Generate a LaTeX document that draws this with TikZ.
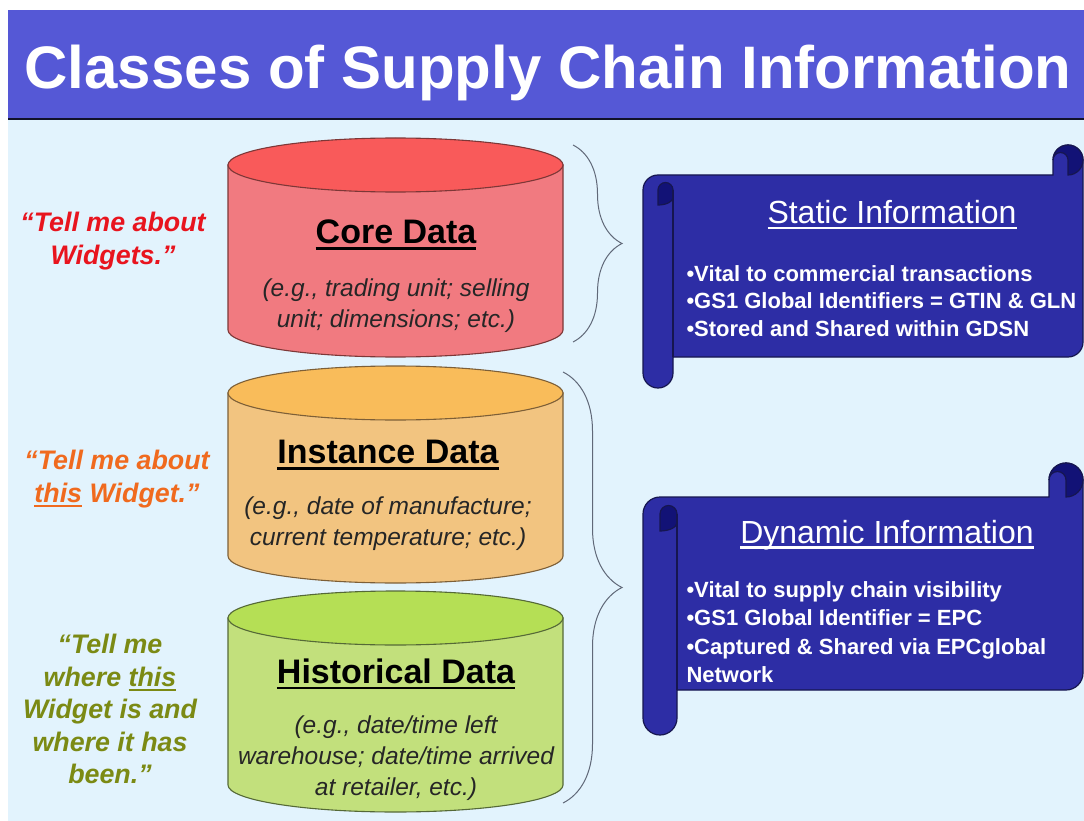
\documentclass[tikz,border=0pt]{standalone}
\usepackage{fontspec}
\setmainfont{Liberation Sans}
\usetikzlibrary{decorations.pathreplacing}

\definecolor{band}{RGB}{85,88,214}
\definecolor{paper}{RGB}{226,243,253}
\definecolor{scrollfill}{RGB}{45,45,165}
\definecolor{scrolldark}{RGB}{18,18,118}
\definecolor{scrollline}{RGB}{22,22,80}
\definecolor{coretop}{RGB}{249,90,90}
\definecolor{coreside}{RGB}{241,122,128}
\definecolor{coreline}{RGB}{125,55,55}
\definecolor{insttop}{RGB}{249,188,90}
\definecolor{instside}{RGB}{242,196,128}
\definecolor{instline}{RGB}{125,95,55}
\definecolor{histtop}{RGB}{181,223,85}
\definecolor{histside}{RGB}{194,224,124}
\definecolor{histline}{RGB}{85,105,55}
\definecolor{bracegray}{RGB}{96,104,120}
\definecolor{sayred}{RGB}{232,20,30}
\definecolor{sayorange}{RGB}{240,106,30}
\definecolor{sayolive}{RGB}{123,138,20}

% underline drawn as a plain rule
\newcommand{\undl}[1]{\setbox0=\hbox{#1}\rlap{\rule[-0.17em]{\wd0}{0.07em}}\box0\relax}

% data store: #1 lid y, #2 base y, #3 side, #4 lid, #5 outline
\newcommand{\datastore}[5]{%
  \draw[draw=#5,line width=1.1pt,fill=#3] (228,#1) -- (228,#2)
    arc[start angle=180,end angle=0,x radius=167.5,y radius=27] -- (563,#1) -- cycle;
  \draw[draw=#5,line width=1.1pt,fill=#4] (395.5,#1) ellipse[x radius=167.5,y radius=27];
}

% scroll: #1 left x, #2 top y, #3 height, #4 lower edge of the sheet, #5 roll width
\newcommand{\infoscroll}[5]{%
  \begin{scope}[shift={(#1,#2)}]
    \pgfmathsetmacro\rollw{#5}
    \pgfmathsetmacro\rollh{#5/2}
    \pgfmathsetmacro\rollq{#5/4}
    \pgfmathsetmacro\rolle{#3-#5/2}
    \filldraw[fill=scrollfill,draw=scrollline,line width=1.2pt]
      (0,1.5*\rollw) arc[start angle=180,end angle=270,radius=\rollh]
      -- (440-\rollw,\rollw) -- (440-\rollw,\rollh)
      arc[start angle=180,end angle=360,radius=\rollh]
      -- (440,#4-\rollh) arc[start angle=0,end angle=90,radius=\rollh]
      -- (\rollw,#4) -- (\rollw,\rolle)
      arc[start angle=0,end angle=180,radius=\rollh] -- cycle;
    % top right curl
    \filldraw[fill=scrolldark,draw=scrollline,line width=1.2pt]
      (440-\rollh,\rollw) arc[start angle=90,end angle=-180,radius=\rollh]
      arc[start angle=180,end angle=360,radius=\rollq] -- cycle;
    % top left curl
    \filldraw[fill=scrolldark,draw=scrollline,line width=1.2pt]
      (\rollh,1.5*\rollw) arc[start angle=180,end angle=360,radius=\rollq]
      -- (\rollw,1.75*\rollw) arc[start angle=0,end angle=90,x radius=\rollh,y radius=\rollq] -- cycle;
    \draw[scrollline,line width=1.2pt] (\rollw,1.5*\rollw) -- (\rollw,#4);
  \end{scope}}

\begin{document}
\begin{tikzpicture}[x=1pt,y=-1pt,
  storehead/.style={font=\fontsize{34}{40}\selectfont\bfseries,text=black},
  storenote/.style={font=\fontsize{24.5}{31}\selectfont\itshape,text=black!85,align=center},
  saying/.style={font=\fontsize{26.8}{32.5}\selectfont\bfseries\itshape,align=center},
  scrollhead/.style={font=\fontsize{32}{38}\selectfont,text=white},
  scrolltext/.style={font=\fontsize{22}{27.5}\selectfont\bfseries,text=white,align=left,anchor=west},
  bracket/.style={draw=bracegray,line width=1pt,decorate,decoration={brace,amplitude=#1}}]
\useasboundingbox (0,0) rectangle (1084,821);
\fill[white] (0,0) rectangle (1084,821);
\fill[paper] (8,120) rectangle (1084,821);

% title band
\fill[band] (8,10) rectangle (1084,119);
\draw[black!80!band,line width=2pt] (8,119.5) -- (1084,119.5);
\node[font=\fontsize{60}{72}\selectfont\bfseries,text=white,anchor=base] (title) at (548,89) {Classes of Supply Chain Information};

% the three stores
\datastore{165}{330}{coreside}{coretop}{coreline}
\datastore{393}{556}{instside}{insttop}{instline}
\datastore{618}{785}{histside}{histtop}{histline}

\node[storehead] (corehead) at (396,235) {\undl{Core Data}};
\node[storenote] (corenote) at (396,306) {(e.g., trading unit; selling\\unit; dimensions; etc.)};
\node[storehead] (insthead) at (388,455) {\undl{Instance Data}};
\node[storenote] (instnote) at (388,524) {(e.g., date of manufacture;\\current temperature; etc.)};
\node[storehead] (histhead) at (396,674) {\undl{Historical Data}};
\node[storenote] (histnote) at (396,758) {(e.g., date/time left\\warehouse; date/time arrived\\at retailer, etc.)};

% what each store answers
\node[saying,text=sayred] (askcore) at (113,241) {“Tell me about\\Widgets.”};
\node[saying,text=sayorange] (askinst) at (117,479) {“Tell me about\\\undl{this} Widget.”};
\node[saying,text=sayolive] (askhist) at (110,709) {“Tell me\\where \undl{this}\\Widget is and\\where it has\\been.”};

% braces
\coordinate (statictop) at (573,145);
\coordinate (staticbot) at (573,342);
\coordinate (dynamictop) at (563,372);
\coordinate (dynamicbot) at (563,803);
\draw[bracket=49pt] (statictop) -- (staticbot);
\draw[bracket=59pt] (dynamictop) -- (dynamicbot);

% scrolls
\infoscroll{643}{145}{243}{212}{30}
\infoscroll{643}{463}{272}{227}{34}

\node[scrollhead] (statichead) at (892,215) {\undl{Static Information}};
\node[scrolltext] (statictext) at (683,301) {•Vital to commercial transactions\\•GS1 Global Identifiers = GTIN \& GLN\\•Stored and Shared within GDSN};
\node[scrollhead] (dynamichead) at (887,535) {\undl{Dynamic Information}};
\node[scrolltext,font=\fontsize{22}{28.5}\selectfont\bfseries] (dynamictext) at (683,632) {•Vital to supply chain visibility\\•GS1 Global Identifier = EPC\\•Captured \& Shared via EPCglobal\\Network};

\end{tikzpicture}
\end{document}
